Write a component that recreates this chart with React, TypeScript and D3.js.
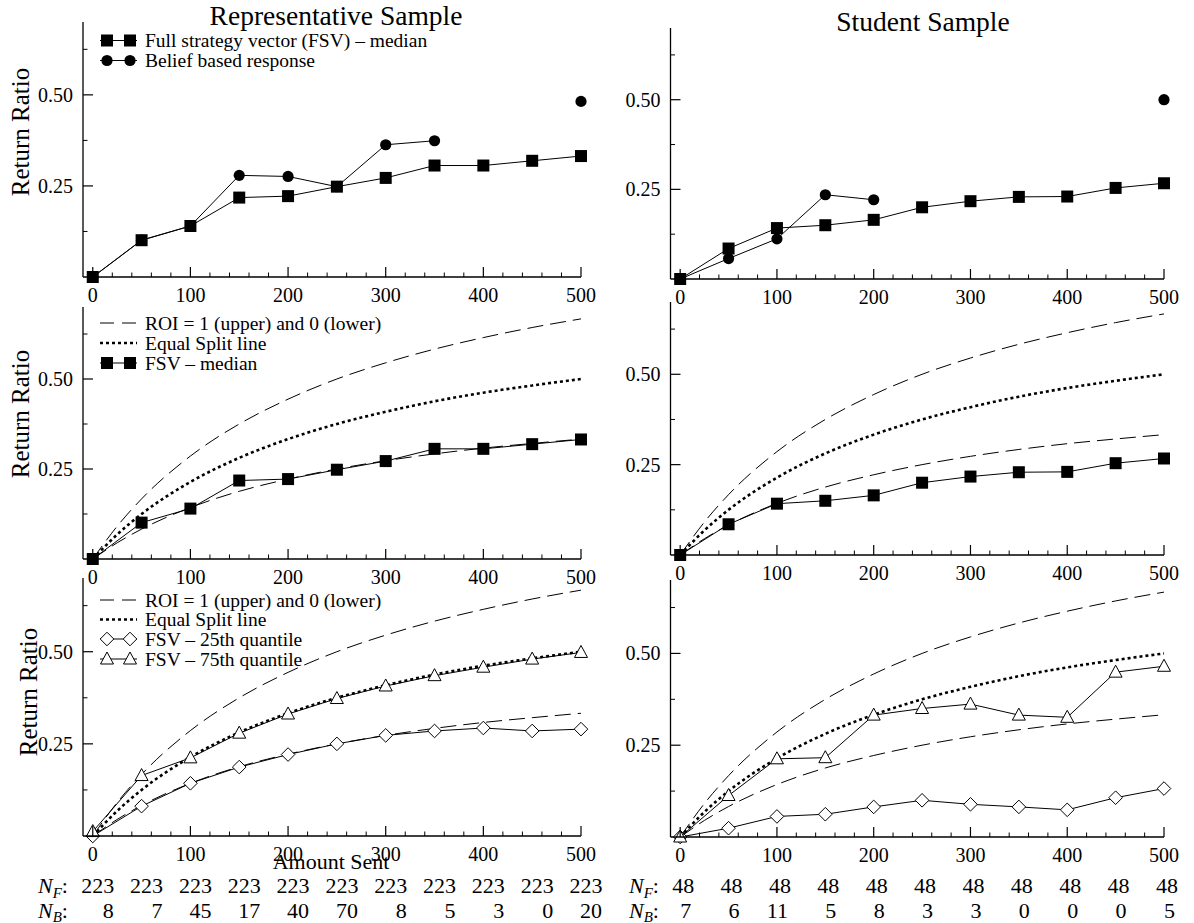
import React from 'react';
import * as d3 from 'd3';

// ---------- data ----------
const amounts = [0, 50, 100, 150, 200, 250, 300, 350, 400, 450, 500];

const repMedian = [0, 0.101, 0.14, 0.218, 0.222, 0.248, 0.272, 0.306, 0.306, 0.319, 0.332];
const repBelief = [0, 0.101, 0.14, 0.279, 0.276, 0.248, 0.363, 0.374, null, null, 0.482];
const stuMedian = [0, 0.085, 0.142, 0.15, 0.165, 0.2, 0.217, 0.229, 0.23, 0.254, 0.267];
const stuBelief = [0, 0.057, 0.112, 0.235, 0.221, null, null, null, null, null, 0.5];

const repQ25 = [0, 0.081, 0.143, 0.187, 0.221, 0.25, 0.273, 0.285, 0.293, 0.285, 0.29];
const repQ75 = [0.012, 0.164, 0.212, 0.279, 0.331, 0.373, 0.407, 0.435, 0.458, 0.48, 0.498];
const stuQ25 = [0, 0.024, 0.056, 0.062, 0.082, 0.1, 0.089, 0.082, 0.074, 0.107, 0.132];
const stuQ75 = [0, 0.113, 0.213, 0.216, 0.332, 0.35, 0.362, 0.332, 0.326, 0.449, 0.465];

const refAmounts = [0, 25, 50, 100, 150, 200, 250, 300, 350, 400, 450, 500];
const roiUpper = [0, 0.091, 0.167, 0.286, 0.375, 0.444, 0.5, 0.545, 0.583, 0.615, 0.643, 0.667];
const equalSplit = [0, 0.068, 0.125, 0.214, 0.281, 0.333, 0.375, 0.409, 0.438, 0.462, 0.482, 0.5];
const roiLower = [0, 0.045, 0.083, 0.143, 0.188, 0.222, 0.25, 0.273, 0.292, 0.308, 0.321, 0.333];

const repNF = [223, 223, 223, 223, 223, 223, 223, 223, 223, 223, 223];
const repNB = [8, 7, 45, 17, 40, 70, 8, 5, 3, 0, 20];
const stuNF = [48, 48, 48, 48, 48, 48, 48, 48, 48, 48, 48];
const stuNB = [7, 6, 11, 5, 8, 3, 3, 0, 0, 0, 5];

const xMajorTicks = [0, 100, 200, 300, 400, 500];
const xMinorTicks = [20, 40, 60, 80, 120, 140, 160, 180, 220, 240, 260, 280, 320, 340, 360, 380, 420, 440, 460, 480];
const yMajorTicks = [0.25, 0.5];
const yTickLabels = ['0.25', '0.50'];
const yMinorTicks = [0.125, 0.375, 0.625];

const FONT = "'Liberation Serif', 'Times New Roman', Times, serif";

type Kind = 'square' | 'circle' | 'diamond' | 'triangle' | 'dash' | 'dot';

function Marker({ kind, cx, cy }: { kind: Kind; cx: number; cy: number }) {
  if (kind === 'square') return <rect x={cx - 6} y={cy - 6} width={12} height={12} fill="#000" />;
  if (kind === 'circle') return <circle cx={cx} cy={cy} r={5.6} fill="#000" />;
  if (kind === 'diamond') {
    const r = 6.8;
    return <path d={`M${cx},${cy - r}L${cx + r},${cy}L${cx},${cy + r}L${cx - r},${cy}Z`} fill="#fff" stroke="#000" strokeWidth={1} />;
  }
  if (kind === 'triangle') {
    return <path d={`M${cx},${cy - 7}L${cx + 6.5},${cy + 5}L${cx - 6.5},${cy + 5}Z`} fill="#fff" stroke="#000" strokeWidth={1} />;
  }
  return null;
}

type Series = { values: (number | null)[]; kind: Kind };
type LegendItem = { label: string; kind: Kind };

const DASH = '16,7';
const DOT = '3,3';

function Panel({ xr, yr, series, refs, legend, legendY }: {
  xr: [number, number]; yr: [number, number]; series: Series[]; refs: boolean;
  legend?: LegendItem[]; legendY?: number[];
}) {
  const x = d3.scaleLinear().domain([-10, 500]).range(xr);
  const y = d3.scaleLinear().domain([0, 0.7]).range(yr);
  const refLine = d3.line<number>().x((_, i) => x(refAmounts[i])).y((d) => y(d)).curve(d3.curveMonotoneX);
  const dataLine = d3.line<number | null>()
    .defined((d) => d !== null)
    .x((_, i) => x(amounts[i]))
    .y((d) => y(d as number));

  return (
    <g>
      {refs && (
        <g fill="none" stroke="#000">
          <path d={refLine(roiUpper) || ''} strokeWidth={1} strokeDasharray={DASH} />
          <path d={refLine(roiLower) || ''} strokeWidth={1} strokeDasharray={DASH} />
          <path d={refLine(equalSplit) || ''} strokeWidth={2.6} strokeDasharray={DOT} />
        </g>
      )}
      {series.map((s, si) => (
        <g key={si}>
          <path d={dataLine(s.values) || ''} fill="none" stroke="#000" strokeWidth={1} />
          {s.values.map((v, i) => (v === null ? null : <Marker key={i} kind={s.kind} cx={x(amounts[i])} cy={y(v)} />))}
        </g>
      ))}
      {/* axes */}
      <line x1={xr[0]} x2={xr[1]} y1={yr[0]} y2={yr[0]} stroke="#000" strokeWidth={1.3} />
      <line x1={xr[0]} x2={xr[0]} y1={yr[0]} y2={yr[1]} stroke="#000" strokeWidth={1.3} />
      {xMajorTicks.map((t) => (
        <g key={'xm' + t}>
          <line x1={x(t)} x2={x(t)} y1={yr[0]} y2={yr[0] - 10} stroke="#000" strokeWidth={1.2} />
          <text x={x(t)} y={yr[0] + 25} textAnchor="middle" fontSize={20} fontFamily={FONT}>{t}</text>
        </g>
      ))}
      {xMinorTicks.map((t) => (
        <line key={'xn' + t} x1={x(t)} x2={x(t)} y1={yr[0]} y2={yr[0] - 4.5} stroke="#000" strokeWidth={1} />
      ))}
      {yMajorTicks.map((t, i) => (
        <g key={'ym' + t}>
          <line x1={xr[0]} x2={xr[0] + 10} y1={y(t)} y2={y(t)} stroke="#000" strokeWidth={1.2} />
          <text x={xr[0] - 10} y={y(t)} dy="0.35em" textAnchor="end" fontSize={20} fontFamily={FONT}>{yTickLabels[i]}</text>
        </g>
      ))}
      {yMinorTicks.map((t) => (
        <line key={'yn' + t} x1={xr[0]} x2={xr[0] + 4.5} y1={y(t)} y2={y(t)} stroke="#000" strokeWidth={1} />
      ))}
      {legend && legendY && legend.map((item, i) => {
        const ly = legendY[i];
        return (
          <g key={'lg' + i}>
            {item.kind === 'dash' && <line x1={100} x2={137} y1={ly} y2={ly} stroke="#000" strokeWidth={1} strokeDasharray="14,8" />}
            {item.kind === 'dot' && <line x1={100} x2={137} y1={ly} y2={ly} stroke="#000" strokeWidth={2.6} strokeDasharray={DOT} />}
            {item.kind !== 'dash' && item.kind !== 'dot' && (
              <g>
                <line x1={100} x2={137} y1={ly} y2={ly} stroke="#000" strokeWidth={1} />
                <Marker kind={item.kind} cx={107} cy={ly} />
                <Marker kind={item.kind} cx={130} cy={ly} />
              </g>
            )}
            <text x={145} y={ly} dy="0.35em" fontSize={19.5} fontFamily={FONT}>{item.label}</text>
          </g>
        );
      })}
    </g>
  );
}

function YLabel({ x, y }: { x: number; y: number }) {
  return (
    <text transform={`translate(${x},${y}) rotate(-90)`} textAnchor="middle" fontSize={25} fontFamily={FONT}>Return Ratio</text>
  );
}

function NRows({ xr, nf, nb, labelX, nfOffset, nbOffset }: {
  xr: [number, number]; nf: number[]; nb: number[]; labelX: number; nfOffset: number; nbOffset: number;
}) {
  const x = d3.scaleLinear().domain([-10, 500]).range(xr);
  const yF = 893;
  const yB = 918;
  return (
    <g fontFamily={FONT} fontSize={22}>
      <text x={labelX} y={yF}>
        <tspan fontStyle="italic">N</tspan>
        <tspan fontStyle="italic" fontSize={15} dy={5}>F</tspan>
        <tspan dy={-5}>:</tspan>
      </text>
      <text x={labelX} y={yB}>
        <tspan fontStyle="italic">N</tspan>
        <tspan fontStyle="italic" fontSize={15} dy={4}>B</tspan>
        <tspan dy={-4}>:</tspan>
      </text>
      {nf.map((v, i) => (
        <text key={'f' + i} x={x(amounts[i]) + nfOffset} y={yF} textAnchor="middle">{v}</text>
      ))}
      {nb.map((v, i) => (
        <text key={'b' + i} x={x(amounts[i]) + nbOffset} y={yB} textAnchor="end">{v}</text>
      ))}
    </g>
  );
}

export default function App() {
  const L: [number, number] = [83, 581];
  const R: [number, number] = [670.5, 1164];
  return (
    <svg width={1194} height={923} style={{ position: 'absolute', left: 0, top: 0, background: '#fff' }} fontFamily={FONT}>
      <rect width={1194} height={923} fill="#fff" />
      <text x={336} y={25} textAnchor="middle" fontSize={27.5}>Representative Sample</text>
      <text x={923} y={31} textAnchor="middle" fontSize={27.5}>Student Sample</text>

      <Panel xr={L} yr={[277, 22]} refs={false}
        series={[{ values: repBelief, kind: 'circle' }, { values: repMedian, kind: 'square' }]}
        legend={[{ label: 'Full strategy vector (FSV) – median', kind: 'square' }, { label: 'Belief based response', kind: 'circle' }]}
        legendY={[40.5, 60.5]} />
      <Panel xr={R} yr={[279, 28]} refs={false}
        series={[{ values: stuBelief, kind: 'circle' }, { values: stuMedian, kind: 'square' }]} />

      <Panel xr={L} yr={[559, 307]} refs={true}
        series={[{ values: repMedian, kind: 'square' }]}
        legend={[{ label: 'ROI = 1 (upper) and 0 (lower)', kind: 'dash' }, { label: 'Equal Split line', kind: 'dot' }, { label: 'FSV – median', kind: 'square' }]}
        legendY={[323, 343, 363]} />
      <Panel xr={R} yr={[555, 302]} refs={true}
        series={[{ values: stuMedian, kind: 'square' }]} />

      <Panel xr={L} yr={[836, 578]} refs={true}
        series={[{ values: repQ25, kind: 'diamond' }, { values: repQ75, kind: 'triangle' }]}
        legend={[{ label: 'ROI = 1 (upper) and 0 (lower)', kind: 'dash' }, { label: 'Equal Split line', kind: 'dot' }, { label: 'FSV – 25th quantile', kind: 'diamond' }, { label: 'FSV – 75th quantile', kind: 'triangle' }]}
        legendY={[600, 619.5, 639, 659]} />
      <Panel xr={R} yr={[837, 580]} refs={true}
        series={[{ values: stuQ25, kind: 'diamond' }, { values: stuQ75, kind: 'triangle' }]} />

      <YLabel x={29} y={132} />
      <YLabel x={29} y={414} />
      <YLabel x={37} y={692} />

      <text x={331} y={869} textAnchor="middle" fontSize={22}>Amount Sent</text>

      <NRows xr={L} nf={repNF} nb={repNB} labelX={38} nfOffset={5} nbOffset={21} />
      <NRows xr={R} nf={stuNF} nb={stuNB} labelX={629} nfOffset={3} nbOffset={11} />
    </svg>
  );
}
